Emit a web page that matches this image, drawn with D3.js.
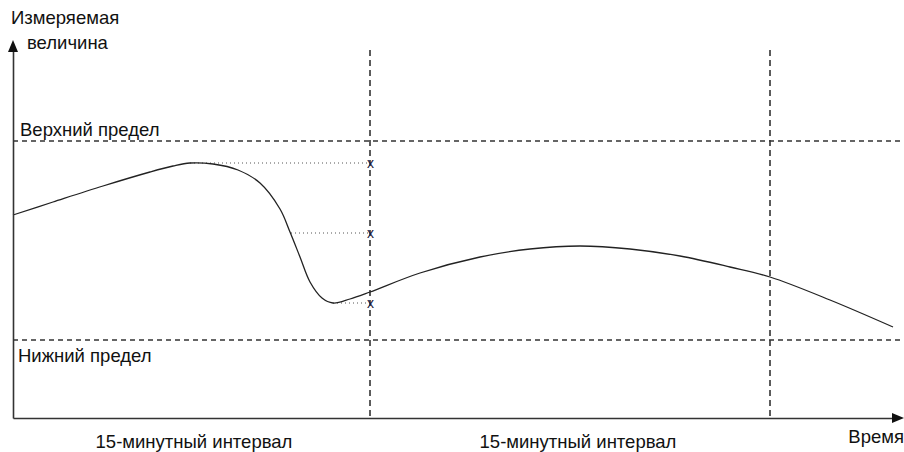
<!DOCTYPE html>
<html>
<head>
<meta charset="utf-8">
<script src="https://cdn.jsdelivr.net/npm/d3@7"></script>
<style>
  html, body { margin: 0; padding: 0; background: #fff; }
  svg { display: block; }
  text { font-family: "Liberation Sans", Arial, sans-serif; fill: #111; }
</style>
</head>
<body>
<svg id="chart" width="904" height="452"></svg>
<script>
// ---- data (time units, measured value units) ----
const curveTime  = [0, 40, 90, 137, 160, 177, 200, 225, 247, 267, 277, 287, 297, 309, 320, 337, 357, 407, 467, 517, 567, 617, 667, 717, 757, 817, 880];
const curveValue = [203, 216, 232, 246, 252, 255, 254, 248, 235, 209, 186, 161, 136, 120, 115, 119, 126, 145, 161, 169, 172, 169, 162, 151, 141, 118, 91];
const upperLimit = 277;
const lowerLimit = 78;
const intervalEnds = [357, 757];
const intervalLabels = ["15-минутный интервал", "15-минутный интервал"];
const intervalCenters = [181, 565];
const sampleStart = [177, 278, 320];     // where each dotted sample line starts
const sampleValue = [255, 185, 115];     // sampled values at end of interval
const upperLabel = "Верхний предел";
const lowerLabel = "Нижний предел";
const yTitle = ["Измеряемая", "величина"];
const xTitle = "Время";

// ---- layout ----
const svg = d3.select("#chart");
const x = d3.scaleLinear().domain([0, 890]).range([13, 903]);
const y = d3.scaleLinear().domain([0, 378]).range([418, 40]);
const ink = "#333";
const fs = 18.5;

// limit lines
[upperLimit, lowerLimit].forEach(v => {
  svg.append("line")
    .attr("x1", x(0)).attr("x2", x(890))
    .attr("y1", y(v)).attr("y2", y(v))
    .attr("stroke", ink).attr("stroke-width", 1.3)
    .attr("stroke-dasharray", "5,4");
});

// interval boundaries
intervalEnds.forEach(t => {
  svg.append("line")
    .attr("x1", x(t)).attr("x2", x(t))
    .attr("y1", y(368)).attr("y2", y(0))
    .attr("stroke", ink).attr("stroke-width", 1.6)
    .attr("stroke-dasharray", "6,4");
});

// dotted sampling lines
sampleStart.forEach((s, i) => {
  svg.append("line")
    .attr("x1", x(s)).attr("x2", x(intervalEnds[0]))
    .attr("y1", y(sampleValue[i])).attr("y2", y(sampleValue[i]))
    .attr("stroke", "#555").attr("stroke-width", 1)
    .attr("stroke-dasharray", "1,3");
  svg.append("text")
    .attr("x", x(intervalEnds[0]) + 0.5)
    .attr("y", y(sampleValue[i]) + 4.5)
    .attr("text-anchor", "middle")
    .attr("font-size", 14)
    .style("fill", "#1a1a40")
    .text("x");
});

// curve
const pts = curveTime.map((t, i) => [t, curveValue[i]]);
svg.append("path")
  .datum(pts)
  .attr("fill", "none")
  .attr("stroke", "#222")
  .attr("stroke-width", 1.3)
  .attr("d", d3.line().x(d => x(d[0])).y(d => y(d[1])).curve(d3.curveCatmullRom.alpha(0.5)));

// axes (no ticks)
svg.append("g").attr("transform", `translate(${x(0)},0)`)
  .call(d3.axisLeft(d3.scaleLinear().domain([0, 368]).range([y(0), y(368)])).tickValues([]).tickSizeOuter(0));
svg.append("g").attr("transform", `translate(0,${y(0)})`)
  .call(d3.axisBottom(d3.scaleLinear().domain([0, 880]).range([x(0), x(880)])).tickValues([]).tickSizeOuter(0));
svg.selectAll(".domain").attr("stroke", ink).attr("stroke-width", 1.6);

// arrowheads
svg.append("path")
  .attr("d", `M${x(0)},${y(378)} L${x(0) - 5},${y(366)} L${x(0) + 5},${y(366)} Z`)
  .attr("fill", "#111");
svg.append("path")
  .attr("d", `M${x(891)},${y(0)} L${x(879)},${y(0) - 5} L${x(879)},${y(0) + 5} Z`)
  .attr("fill", "#111");

// texts
svg.append("text").attr("x", 11).attr("y", 24).attr("font-size", fs).text(yTitle[0]);
svg.append("text").attr("x", 27).attr("y", 49).attr("font-size", fs).text(yTitle[1]);
svg.append("text").attr("x", 20).attr("y", y(upperLimit) - 5).attr("font-size", fs).text(upperLabel);
svg.append("text").attr("x", 18).attr("y", y(lowerLimit) + 22).attr("font-size", fs).text(lowerLabel);
intervalLabels.forEach((l, i) => {
  svg.append("text").attr("x", x(intervalCenters[i])).attr("y", 448)
    .attr("text-anchor", "middle").attr("font-size", fs).text(l);
});
svg.append("text").attr("x", 904).attr("y", 443).attr("text-anchor", "end").attr("font-size", fs).text(xTitle);
</script>
</body>
</html>
